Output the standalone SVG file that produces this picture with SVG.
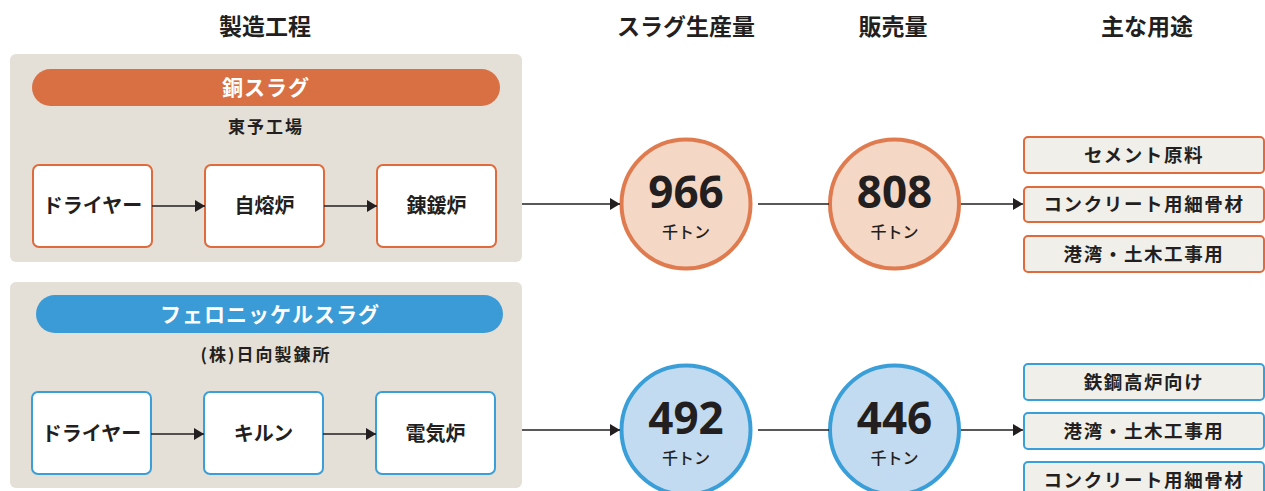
<svg xmlns="http://www.w3.org/2000/svg" width="1265" height="491" viewBox="0 0 1265 491">
<defs>
<marker id="ah" viewBox="0 0 10 12" refX="10" refY="6" markerWidth="10" markerHeight="12" markerUnits="userSpaceOnUse" orient="auto">
<path d="M0,0 L10,6 L0,12 Z" fill="#231f20"/>
</marker>
<style>
text{font-family:"Noto Sans CJK JP","Noto Sans",sans-serif;font-weight:bold;text-anchor:middle;fill:#231f20}
.title{font-size:23px}
.panel{fill:#e4dfd7}
.pill{font-size:21px;fill:#ffffff;letter-spacing:1px}
.site{font-size:17px;letter-spacing:2px}
.pbox-o{fill:#ffffff;stroke:#df6a3c;stroke-width:2}
.pbox-b{fill:#ffffff;stroke:#3a9fd8;stroke-width:2}
.btxt{font-size:20px}
.num{font-size:44px;font-family:"Noto Sans","Noto Sans CJK JP",sans-serif}
.unit{font-size:16px;font-weight:500}
.c-o{fill:#f4d7c5;stroke:#df7b4f;stroke-width:4}
.c-b{fill:#c3dbf0;stroke:#3a9fd8;stroke-width:4}
.use-o{fill:#f1efea;stroke:#df6a3c;stroke-width:2}
.use-b{fill:#f1efea;stroke:#3a9fd8;stroke-width:2}
.utxt{font-size:18.5px;letter-spacing:1.6px}
.conn{stroke:#231f20;stroke-width:1.3;fill:none}
</style>
</defs>
<rect width="1265" height="491" fill="#ffffff"/>
<g id="headers">
<text class="title" x="265" y="35">製造工程</text>
<text class="title" x="686" y="35">スラグ生産量</text>
<text class="title" x="893" y="35">販売量</text>
<text class="title" x="1147" y="35">主な用途</text>
</g>
<g id="copper-panel">
<rect class="panel" x="10" y="54" width="512" height="208" rx="6"/>
<rect x="32" y="69" width="468" height="37" rx="18.5" fill="#d97043"/>
<text class="pill" x="266" y="94.5">銅スラグ</text>
<text class="site" x="266" y="133">東予工場</text>
</g>
<g id="cu-dryer"><rect class="pbox-o" x="33" y="165" width="119" height="82" rx="6"/><text class="btxt" x="92.5" y="213">ドライヤー</text></g>
<g id="cu-flash"><rect class="pbox-o" x="205" y="165" width="119" height="82" rx="6"/><text class="btxt" x="264.5" y="213">自熔炉</text></g>
<g id="cu-refine"><rect class="pbox-o" x="377" y="165" width="119" height="82" rx="6"/><text class="btxt" x="436.5" y="213">錬鍰炉</text></g>
<g id="nickel-panel">
<rect class="panel" x="10" y="282" width="512" height="206" rx="6"/>
<rect x="36" y="295" width="467" height="38" rx="19" fill="#3a9bd6"/>
<text class="pill" x="270" y="321.5">フェロニッケルスラグ</text>
<text class="site" x="266" y="361">(株)日向製錬所</text>
</g>
<g id="ni-dryer"><rect class="pbox-b" x="32" y="392" width="119" height="82" rx="6"/><text class="btxt" x="91.5" y="441">ドライヤー</text></g>
<g id="ni-kiln"><rect class="pbox-b" x="204" y="392" width="119" height="82" rx="6"/><text class="btxt" x="263.5" y="441">キルン</text></g>
<g id="ni-furnace"><rect class="pbox-b" x="376" y="392" width="119" height="82" rx="6"/><text class="btxt" x="435.5" y="441">電気炉</text></g>
<g id="cu-prod"><circle class="c-o" cx="686" cy="204" r="64.5"/><text class="num" x="686" y="208">966</text><text class="unit" x="686" y="238">千トン</text></g>
<g id="cu-sales"><circle class="c-o" cx="894.5" cy="204" r="64.5"/><text class="num" x="894.5" y="208">808</text><text class="unit" x="894.5" y="238">千トン</text></g>
<g id="ni-prod"><circle class="c-b" cx="686" cy="430" r="64.5"/><text class="num" x="686" y="434">492</text><text class="unit" x="686" y="464">千トン</text></g>
<g id="ni-sales"><circle class="c-b" cx="894.5" cy="430" r="64.5"/><text class="num" x="894.5" y="434">446</text><text class="unit" x="894.5" y="464">千トン</text></g>
<g id="cu-use1"><rect class="use-o" x="1024" y="137" width="240" height="36" rx="4"/><text class="utxt" x="1144" y="161.5">セメント原料</text></g>
<g id="cu-use2"><rect class="use-o" x="1024" y="187" width="240" height="35" rx="4"/><text class="utxt" x="1144" y="211">コンクリート用細骨材</text></g>
<g id="cu-use3"><rect class="use-o" x="1024" y="236" width="240" height="36" rx="4"/><text class="utxt" x="1144" y="260.5">港湾・土木工事用</text></g>
<g id="ni-use1"><rect class="use-b" x="1024" y="364" width="240" height="36" rx="4"/><text class="utxt" x="1144" y="388.5">鉄鋼高炉向け</text></g>
<g id="ni-use2"><rect class="use-b" x="1024" y="413" width="240" height="36" rx="4"/><text class="utxt" x="1144" y="437.5">港湾・土木工事用</text></g>
<g id="ni-use3"><rect class="use-b" x="1024" y="462" width="240" height="36" rx="4"/><text class="utxt" x="1144" y="486.5">コンクリート用細骨材</text></g>
<g id="connectors">
<line class="conn" x1="152" y1="206" x2="205" y2="206" marker-end="url(#ah)"/>
<line class="conn" x1="324" y1="206" x2="377" y2="206" marker-end="url(#ah)"/>
<line class="conn" x1="522" y1="204" x2="620" y2="204" marker-end="url(#ah)"/>
<line class="conn" x1="758" y1="204" x2="829" y2="204"/>
<line class="conn" x1="961" y1="204" x2="1023" y2="204" marker-end="url(#ah)"/>
<line class="conn" x1="151" y1="434" x2="204" y2="434" marker-end="url(#ah)"/>
<line class="conn" x1="323" y1="434" x2="376" y2="434" marker-end="url(#ah)"/>
<line class="conn" x1="522" y1="430" x2="620" y2="430" marker-end="url(#ah)"/>
<line class="conn" x1="758" y1="430" x2="829" y2="430"/>
<line class="conn" x1="961" y1="430" x2="1023" y2="430" marker-end="url(#ah)"/>
</g>
</svg>
